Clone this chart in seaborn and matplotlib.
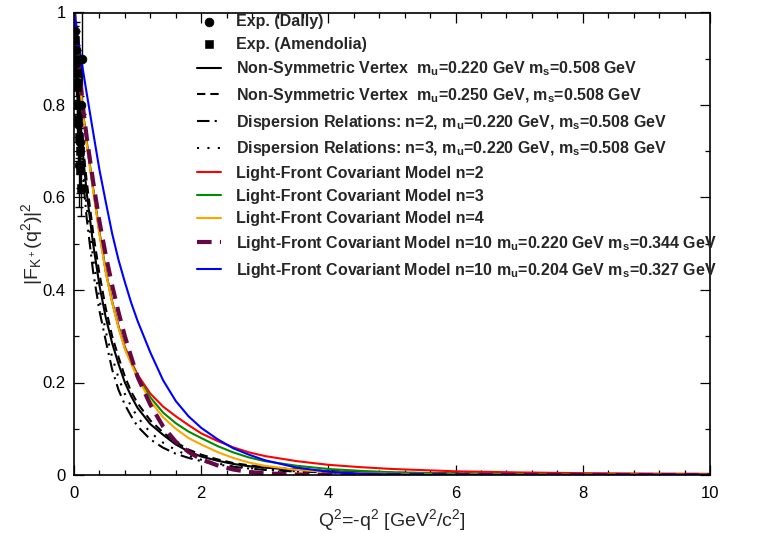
import seaborn as sns
import matplotlib.pyplot as plt
from matplotlib.ticker import MultipleLocator, FormatStrFormatter

q2 = [0, 0.05, 0.1, 0.15, 0.2, 0.3, 0.4, 0.5, 0.6, 0.7, 0.8, 0.9, 1.0, 1.2, 1.4, 1.6,
      1.8, 2.0, 2.25, 2.5, 2.75, 3.0, 3.5, 4.0, 4.5, 5, 6, 7, 8, 9, 10]

nsv_220 = [1, 0.86, 0.76, 0.68, 0.61, 0.50, 0.41, 0.34, 0.285, 0.24, 0.20, 0.17, 0.145, 0.11, 0.087, 0.066,
           0.051, 0.040, 0.031, 0.024, 0.019, 0.016, 0.011, 0.008, 0.006, 0.0045, 0.003, 0.002, 0.0015, 0.0012, 0.001]
nsv_250 = [1, 0.875, 0.78, 0.70, 0.635, 0.525, 0.435, 0.36, 0.30, 0.255, 0.213, 0.18, 0.155, 0.118, 0.092, 0.071,
           0.055, 0.044, 0.034, 0.026, 0.021, 0.017, 0.012, 0.0085, 0.0065, 0.005, 0.0032, 0.0022, 0.0016, 0.0013, 0.001]
dr_n2 = [1, 0.84, 0.72, 0.63, 0.555, 0.44, 0.355, 0.29, 0.228, 0.184, 0.152, 0.127, 0.105, 0.077, 0.059, 0.046,
         0.037, 0.030, 0.023, 0.018, 0.014, 0.011, 0.0075, 0.0055, 0.004, 0.003, 0.002, 0.0013, 0.001, 0.0008, 0.0006]
dr_n3 = [1, 0.85, 0.74, 0.655, 0.58, 0.47, 0.38, 0.31, 0.255, 0.21, 0.175, 0.148, 0.125, 0.092, 0.07, 0.054,
         0.042, 0.033, 0.025, 0.019, 0.015, 0.012, 0.008, 0.0055, 0.004, 0.003, 0.0018, 0.0012, 0.0008, 0.0006, 0.0005]
lf_n2 = [1, 0.915, 0.84, 0.775, 0.72, 0.62, 0.525, 0.44, 0.375, 0.322, 0.277, 0.245, 0.217, 0.176, 0.148, 0.127,
         0.108, 0.09, 0.074, 0.06, 0.049, 0.041, 0.03, 0.022, 0.017, 0.013, 0.008, 0.0055, 0.004, 0.003, 0.0025]
lf_n3 = [1, 0.915, 0.84, 0.775, 0.72, 0.62, 0.525, 0.44, 0.374, 0.32, 0.274, 0.242, 0.213, 0.168, 0.135, 0.112,
         0.094, 0.08, 0.063, 0.049, 0.038, 0.03, 0.02, 0.013, 0.009, 0.006, 0.003, 0.002, 0.0013, 0.001, 0.0008]
lf_n4 = [1, 0.913, 0.836, 0.77, 0.715, 0.615, 0.52, 0.437, 0.372, 0.318, 0.272, 0.24, 0.21, 0.16, 0.125, 0.1,
         0.08, 0.066, 0.05, 0.037, 0.027, 0.02, 0.011, 0.0065, 0.004, 0.0025, 0.001, 0.0005, 0.0003, 0.0002, 0.0001]
lf_n10_a = [1, 0.92, 0.85, 0.785, 0.73, 0.635, 0.548, 0.475, 0.41, 0.352, 0.30, 0.255, 0.212, 0.152, 0.105, 0.072,
            0.05, 0.034, 0.021, 0.012, 0.0065, 0.0035, 0.001, 0.0003, 0.0001, 0, 0, 0, 0, 0, 0]
lf_n10_b = [1, 0.955, 0.91, 0.868, 0.825, 0.742, 0.66, 0.59, 0.522, 0.465, 0.417, 0.372, 0.333, 0.265, 0.205, 0.16,
            0.127, 0.102, 0.078, 0.058, 0.044, 0.032, 0.016, 0.007, 0.003, 0.0012, 0.0003, 0.0001, 0, 0, 0]

# experimental points
dally_q2 = [0.015, 0.025, 0.035, 0.045, 0.055, 0.07, 0.08, 0.095, 0.11, 0.125]
dally_f = [0.96, 0.92, 0.89, 0.85, 0.80, 0.76, 0.67, 0.72, 0.80, 0.90]
dally_err = [0.06, 0.06, 0.07, 0.07, 0.08, 0.08, 0.09, 0.10, 0.10, 0.12]
amen_q2 = [0.02, 0.03, 0.04, 0.05, 0.06, 0.07, 0.08, 0.09, 0.10, 0.11]
amen_f = [0.94, 0.90, 0.87, 0.84, 0.80, 0.77, 0.73, 0.70, 0.66, 0.62]
amen_err = [0.03, 0.03, 0.03, 0.035, 0.04, 0.04, 0.045, 0.05, 0.05, 0.06]

sns.set_style('ticks')
plt.rcParams['font.family'] = ['Liberation Sans', 'DejaVu Sans']
plt.rcParams['mathtext.default'] = 'regular'

fig = plt.figure(figsize=(7.58, 5.33), dpi=100)
ax = fig.add_axes([74 / 758, 1 - 475 / 533, 636 / 758, 462.5 / 533])

# data with error bars
ax.errorbar(dally_q2, dally_f, yerr=dally_err, fmt='none', ecolor='black', elinewidth=1, capsize=3)
ax.errorbar(amen_q2, amen_f, yerr=amen_err, fmt='none', ecolor='black', elinewidth=1, capsize=3)
sns.scatterplot(x=dally_q2, y=dally_f, ax=ax, marker='o', s=40, color='black',
                edgecolor='black', label='Exp. (Dally)', zorder=5)
sns.scatterplot(x=amen_q2, y=amen_f, ax=ax, marker='s', s=28, color='black',
                edgecolor='black', label='Exp. (Amendolia)', zorder=5)

curves = [
    (nsv_220, 'black', '-', 1.5, 'Non-Symmetric Vertex  m$_u$=0.220 GeV m$_s$=0.508 GeV'),
    (nsv_250, 'black', (0, (4, 2.4)), 1.5, 'Non-Symmetric Vertex  m$_u$=0.250 GeV, m$_s$=0.508 GeV'),
    (dr_n2, 'black', (0, (6, 2.5, 1, 2.5)), 1.5, 'Dispersion Relations: n=2, m$_u$=0.220 GeV, m$_s$=0.508 GeV'),
    (dr_n3, 'black', (0, (1, 4)), 1.5, 'Dispersion Relations: n=3, m$_u$=0.220 GeV, m$_s$=0.508 GeV'),
    (lf_n2, '#ff0000', '-', 1.5, 'Light-Front Covariant Model n=2'),
    (lf_n3, '#008b00', '-', 1.5, 'Light-Front Covariant Model n=3'),
    (lf_n4, '#ffa500', '-', 1.5, 'Light-Front Covariant Model n=4'),
    (lf_n10_a, '#670748', (0, (3.5, 2)), 3.0, 'Light-Front Covariant Model n=10 m$_u$=0.220 GeV m$_s$=0.344 GeV'),
    (lf_n10_b, '#0000ff', '-', 1.5, 'Light-Front Covariant Model n=10 m$_u$=0.204 GeV m$_s$=0.327 GeV'),
]
for vals, col, ls, lw, lab in curves:
    sns.lineplot(x=q2, y=vals, ax=ax, color=col, linestyle=ls, linewidth=lw,
                 label=lab, estimator=None, sort=False)

ax.set_xlim(0, 10)
ax.set_ylim(0, 1)
ax.xaxis.set_major_locator(MultipleLocator(2))
ax.xaxis.set_minor_locator(MultipleLocator(0.4))
ax.yaxis.set_major_locator(MultipleLocator(0.2))
ax.yaxis.set_minor_locator(MultipleLocator(0.1))
ax.xaxis.set_major_formatter(FormatStrFormatter('%g'))
ax.yaxis.set_major_formatter(FormatStrFormatter('%g'))
ax.tick_params(which='both', direction='in', top=True, right=True, width=0.9, colors='black')
ax.tick_params(which='major', length=7.5, pad=6, labelsize=12)
ax.tick_params(axis='x', which='major', pad=8)
ax.tick_params(which='minor', length=3.8)
for sp in ax.spines.values():
    sp.set_linewidth(1.2)
    sp.set_color('black')

ax.set_xlabel('Q$^2$=-q$^2$ [GeV$^2$/c$^2$]', fontsize=14, labelpad=4)
ax.set_ylabel('|F$_{K^+}$(q$^2$)|$^2$', fontsize=14, labelpad=-2)

leg = ax.legend(loc='upper left', bbox_to_anchor=(197 / 758, 1 - 14 / 533),
                bbox_transform=fig.transFigure, frameon=False,
                prop={'weight': 'bold', 'size': 11.5}, handlelength=1.5, handletextpad=0.95,
                labelspacing=0.48, borderpad=0, borderaxespad=0, scatterpoints=1)

fig.savefig('out.png', dpi=100)
